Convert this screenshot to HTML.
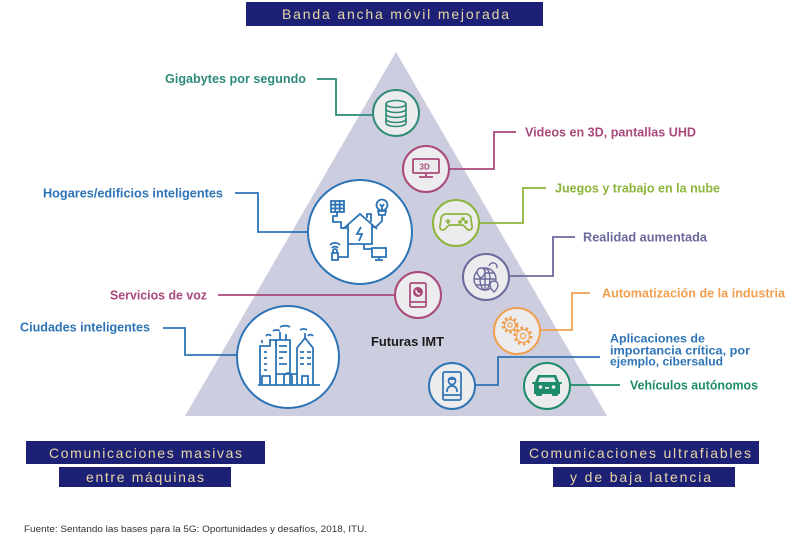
<!DOCTYPE html>
<html><head><meta charset="utf-8"><style>
html,body{margin:0;padding:0;background:#fff;}
svg{display:block;}
text{font-family:"Liberation Sans",sans-serif;}
.lb{font-weight:bold;font-size:12.5px;}
.bx{font-size:14px;fill:#e8d7a6;}
</style></head><body>
<svg width="800" height="539" viewBox="0 0 800 539" xmlns="http://www.w3.org/2000/svg">
<rect width="800" height="539" fill="#fff"/>
<!-- triangle -->
<polygon points="396,52 185,416 607,416" fill="#cdcde0"/>

<!-- top banner -->
<rect x="246" y="2" width="297" height="24" fill="#1c2176"/>
<text class="bx" x="282" y="19" textLength="227" lengthAdjust="spacing">Banda ancha móvil mejorada</text>

<!-- connectors -->
<g fill="none" stroke-width="1.8">
<path d="M317,79 H336 V115 H373" stroke="#2f8a78"/>
<path d="M516,132 H494 V169 H449" stroke="#a8497a"/>
<path d="M546,188 H523 V223 H479" stroke="#8db53c"/>
<path d="M575,237 H553 V276 H509" stroke="#6c6a9c"/>
<path d="M590,293 H572 V330 H540" stroke="#f0a050"/>
<path d="M600,357 H498 V385 H475" stroke="#2e74b5"/>
<path d="M570,385 H620" stroke="#1e8c6a"/>
<path d="M235,193 H258 V232 H308" stroke="#2e74b5"/>
<path d="M218,295 H395" stroke="#a8497a"/>
<path d="M163,328 H185 V355 H237" stroke="#2e74b5"/>
</g>

<!-- small circles -->
<g stroke-width="2" fill="#ececee">
<circle cx="396" cy="113" r="23" stroke="#2f8a78"/>
<circle cx="426" cy="169" r="23" stroke="#a8497a"/>
<circle cx="456" cy="223" r="23" stroke="#8db53c"/>
<circle cx="486" cy="277" r="23" stroke="#6c6a9c"/>
<circle cx="418" cy="295" r="23" stroke="#a8497a"/>
<circle cx="517" cy="331" r="23" stroke="#f0a050"/>
<circle cx="452" cy="386" r="23" stroke="#2e74b5"/>
<circle cx="547" cy="386" r="23" stroke="#1e8c6a"/>
</g>
<!-- big circles -->
<circle cx="360" cy="232" r="52" fill="#fff" stroke="#2e74b5" stroke-width="2"/>
<circle cx="288" cy="357" r="51" fill="#fff" stroke="#2e74b5" stroke-width="2"/>

<!-- database icon -->
<g fill="none" stroke="#2f8a78" stroke-width="1.6">
<ellipse cx="396" cy="104" rx="10" ry="3.5"/>
<path d="M386,104 v5 a10,3.5 0 0 0 20,0 v-5"/>
<path d="M386,109 v5 a10,3.5 0 0 0 20,0 v-5"/>
<path d="M386,114 v5 a10,3.5 0 0 0 20,0 v-5"/>
<path d="M386,119 v4 a10,3.5 0 0 0 20,0 v-4"/>
</g>

<!-- 3D monitor -->
<g fill="none" stroke="#a8497a" stroke-width="1.8">
<rect x="413" y="159" width="26" height="14" rx="1"/>
<path d="M426,173 v4 M419,177 h14"/>
</g>
<text x="419.5" y="169.5" font-size="8" font-weight="bold" fill="#a8497a">3D</text>

<!-- gamepad -->
<g fill="none" stroke="#8db53c" stroke-width="1.7">
<path d="M446,214 h20 a5,5 0 0 1 5,5 l1,7 a3,3 0 0 1 -5,3 l-4,-4 h-14 l-4,4 a3,3 0 0 1 -5,-3 l1,-7 a5,5 0 0 1 5,-5 z"/>
<path d="M448,219 v5 M445.5,221.5 h5"/>
<circle cx="463" cy="219" r="1"/><circle cx="466" cy="222" r="1"/><circle cx="460" cy="222" r="1"/>
</g>

<!-- globe -->
<g fill="none" stroke="#6c6a9c" stroke-width="1.4">
<circle cx="485" cy="279" r="11"/>
<ellipse cx="485" cy="279" rx="5" ry="11"/>
<path d="M474,279 h22 M476,273 h18 M476,285 h18 M485,268 v22"/>
<path d="M477,272 a4,4 0 1 1 8,0 c0,3 -4,6 -4,6 c0,0 -4,-3 -4,-6 z" fill="#ececee"/>
<path d="M490,285 a4,4 0 1 1 8,0 c0,3 -4,7 -4,7 c0,0 -4,-4 -4,-7 z" fill="#ececee"/>
<path d="M489,266 a4,4 0 0 1 8,2"/>
</g>

<!-- phone voz -->
<g fill="none" stroke="#a8497a" stroke-width="1.7">
<rect x="410" y="283" width="16" height="24" rx="1.5"/>
<path d="M410,302 h16"/>
</g>
<circle cx="418" cy="292" r="5" fill="#a8497a"/>
<path d="M416,290 q0,4 4,4" stroke="#fff" stroke-width="1.4" fill="none"/>

<!-- gears -->
<g fill="none" stroke="#f0a050">
<circle cx="510" cy="325" r="7" stroke-width="3" stroke-dasharray="2.4 2.2"/>
<circle cx="510" cy="325" r="5.5" stroke-width="1.2" fill="#ececee"/>
<circle cx="510" cy="325" r="2.2" stroke-width="1.2"/>
<circle cx="523" cy="336" r="8" stroke-width="3" stroke-dasharray="2.6 2.4"/>
<circle cx="523" cy="336" r="6.5" stroke-width="1.2" fill="#ececee"/>
<circle cx="523" cy="336" r="2.6" stroke-width="1.2"/>
</g>

<!-- medical tablet -->
<g fill="none" stroke="#2e74b5" stroke-width="1.7">
<rect x="443" y="372" width="18" height="28" rx="1.5"/>
<path d="M443,395 h18"/>
<circle cx="452" cy="381" r="3.5"/>
<path d="M447,392 q0,-6 5,-6 q5,0 5,6"/>
<path d="M448,379 h8"/>
</g>

<!-- car -->
<g fill="#1e8c6a">
<path d="M538,375 h18 l3,7 h2 a1,1 0 0 1 0,2 h-1 v10 h-26 v-10 h-1 a1,1 0 0 1 0,-2 h2 z"/>
<rect x="536" y="392" width="6" height="4" rx="1"/>
<rect x="552" y="392" width="6" height="4" rx="1"/>
</g>
<path d="M540,377.5 h14 l2,4.5 h-18 z" fill="#ececee"/>
<circle cx="540.5" cy="387" r="1.8" fill="#ececee"/>
<circle cx="553.5" cy="387" r="1.8" fill="#ececee"/>
<rect x="545" y="387" width="4" height="1.8" fill="#ececee"/>

<!-- smart home -->
<g fill="none" stroke="#2e74b5" stroke-width="1.8">
<rect x="331" y="201" width="13" height="11"/>
<path d="M331,204.7 h13 M331,208.4 h13 M335.3,201 v11 M339.7,201 v11"/>
<path d="M337,212 v4 h-4 v6 h8 v6 h6"/>
<path d="M343,229 L360,214 L377,229"/>
<path d="M348,224 v20 h24 v-20"/>
<path d="M367,218 v-4 h4 v8"/>
<path d="M361,227 l-4,7 h5 l-3,7"/>
<circle cx="382" cy="205" r="5.5"/>
<path d="M380,204 l2,3 l2,-3 M382,207 v4"/>
<path d="M378,211 h8 l-1,4 h-6 z"/>
<path d="M382,215 v6 l-6,6 h-4"/>
<path d="M332,253 h6 v7 h-6 z"/>
<path d="M333,253 v-2 a2,2 0 0 1 4,0 v2"/>
<path d="M330,245 a7,7 0 0 1 10,0 M332,248 a4,4 0 0 1 6,0"/>
<path d="M338,257 h10 v-13"/>
<path d="M364,244 v5 h8"/>
<rect x="372" y="248" width="14" height="9"/>
<path d="M379,257 v3 M375,260 h8"/>
</g>

<!-- city -->
<g fill="none" stroke="#2e74b5" stroke-width="1.8">
<path d="M260,385 V346 h10 v-6 h6 v6 M262,343 v-3"/>
<path d="M276,385 V340 h14 v45"/>
<path d="M280,332 v8 M286,334 v6"/>
<path d="M297,385 V348 l8,-10 l8,10 v37"/>
<path d="M305,338 v-5"/>
<path d="M258,385 h62"/>
<path d="M264,352 h3 M264,358 h3 M264,364 h3 M264,370 h3"/>
<path d="M279,346 h8 M279,352 h8 M279,358 h4 M279,364 h8"/>
<path d="M300,352 h4 M307,352 h4 M300,358 h4 M307,358 h4 M300,364 h4 M307,364 h4"/>
<path d="M262,385 v-9 h8 v9 M284,385 v-8 a4,4 0 0 1 8,0 v8 M302,385 v-9 h6 v9"/>
<path d="M276,374 h21"/>
<path d="M273,331 a5,4 0 0 1 7,0 M266,336 a3,3 0 0 1 5,0 M280,327 a8,6 0 0 1 10,0 M300,330 a5,4 0 0 1 7,0 M308,336 a3,3 0 0 1 5,0"/>
</g>

<!-- labels -->
<text class="lb" x="165" y="83" fill="#2f8a78" textLength="141" lengthAdjust="spacingAndGlyphs">Gigabytes por segundo</text>
<text class="lb" x="525" y="136.5" fill="#a8497a" textLength="171" lengthAdjust="spacingAndGlyphs">Videos en 3D, pantallas UHD</text>
<text class="lb" x="555" y="192.5" fill="#8db53c" textLength="165" lengthAdjust="spacingAndGlyphs">Juegos y trabajo en la nube</text>
<text class="lb" x="583" y="241.5" fill="#6c6a9c" textLength="124" lengthAdjust="spacingAndGlyphs">Realidad aumentada</text>
<text class="lb" x="602" y="297.5" fill="#f0a050" textLength="183" lengthAdjust="spacingAndGlyphs">Automatización de la industria</text>
<text class="lb" x="610" y="342.5" fill="#2e74b5" textLength="95" lengthAdjust="spacingAndGlyphs" style="font-size:12px">Aplicaciones de</text>
<text class="lb" x="610" y="354.5" fill="#2e74b5" textLength="140" lengthAdjust="spacingAndGlyphs" style="font-size:12px">importancia crítica, por</text>
<text class="lb" x="610" y="365.5" fill="#2e74b5" textLength="113" lengthAdjust="spacingAndGlyphs" style="font-size:12px">ejemplo, cibersalud</text>
<text class="lb" x="630" y="389.5" fill="#1e8c6a" textLength="128" lengthAdjust="spacingAndGlyphs">Vehículos autónomos</text>
<text class="lb" x="43" y="197.5" fill="#2e74b5" textLength="180" lengthAdjust="spacingAndGlyphs">Hogares/edificios inteligentes</text>
<text class="lb" x="110" y="299.5" fill="#a8497a" textLength="97" lengthAdjust="spacingAndGlyphs">Servicios de voz</text>
<text class="lb" x="20" y="331.5" fill="#2e74b5" textLength="130" lengthAdjust="spacingAndGlyphs">Ciudades inteligentes</text>
<text class="lb" x="371" y="346" fill="#1a1a1a" textLength="73" lengthAdjust="spacingAndGlyphs">Futuras IMT</text>

<!-- bottom boxes -->
<rect x="26" y="441" width="239" height="23" fill="#1c2176"/>
<text class="bx" x="49" y="458" textLength="193" lengthAdjust="spacing">Comunicaciones masivas</text>
<rect x="59" y="467" width="172" height="20" fill="#1c2176"/>
<text class="bx" x="86" y="482" textLength="118" lengthAdjust="spacing">entre máquinas</text>
<rect x="520" y="441" width="239" height="23" fill="#1c2176"/>
<text class="bx" x="529" y="458" textLength="222" lengthAdjust="spacing">Comunicaciones ultrafiables</text>
<rect x="553" y="467" width="182" height="20" fill="#1c2176"/>
<text class="bx" x="570" y="482" textLength="141" lengthAdjust="spacing">y de baja latencia</text>

<!-- footer -->
<text x="24" y="532" font-size="9" fill="#333" textLength="343" lengthAdjust="spacingAndGlyphs">Fuente: Sentando las bases para la 5G: Oportunidades y desafíos, 2018, ITU.</text>
</svg>
</body></html>
